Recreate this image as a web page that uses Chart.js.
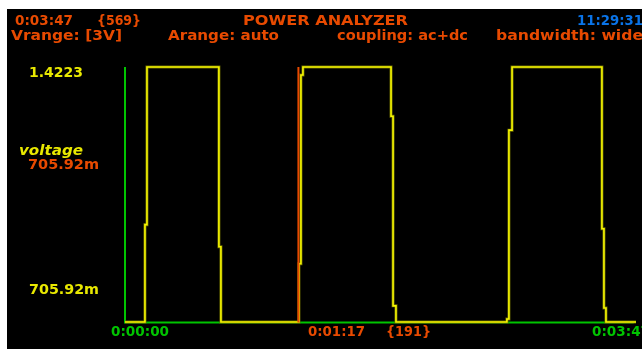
<!DOCTYPE html>
<html>
<head>
<meta charset="utf-8">
<script src="https://cdn.jsdelivr.net/npm/chart.js@4/dist/chart.umd.min.js"></script>
<style>
  html, body { margin: 0; padding: 0; background: #ffffff; }
  #scope { position: absolute; left: 7px; top: 9px; background: #000000; }
</style>
</head>
<body>
<canvas id="scope" width="635" height="340"></canvas>
<script>
// Data (time in seconds, voltage in volts)
const timeSec = [0, 8.9, 8.9, 9.8, 9.8, 41.9, 41.9, 42.8, 42.8, 77.6, 77.6, 78.5, 78.5, 79.4, 79.4,
  118.7, 118.7, 119.6, 119.6, 120.9, 120.9, 170.4, 170.4, 171.3, 171.3, 172.7, 172.7,
  212.8, 212.8, 213.7, 213.7, 214.6, 214.6, 228];
const voltage = [0, 0, 0.543, 0.543, 1.4223, 1.4223, 0.42, 0.42, 0, 0, 0.325, 0.325, 1.378, 1.378, 1.4223,
  1.4223, 1.148, 1.148, 0.09, 0.09, 0, 0, 0.017, 0.017, 1.07, 1.07, 1.4223,
  1.4223, 0.52, 0.52, 0.078, 0.078, 0, 0];
const totalSec = 227;
const cursorSec = 77.6;
const voltMax = 1.4223;

// Texts
const headerTop = ["0:03:47", "{569}", "POWER ANALYZER", "11:29:31"];
const headerBottom = ["Vrange: [3V]", "Arange: auto", "coupling: ac+dc", "bandwidth: wide"];
const yTickLabels = ["1.4223", "705.92m"];
const yTitle = "voltage";
const cursorValue = "705.92m";
const xTickLabels = ["0:00:00", "0:03:47"];
const cursorLabels = ["0:01:17", "{191}"];

const RED = "#e84a00", YELLOW = "#e8e800", GREEN = "#00c400", BLUE = "#0a74e8";
const FONT = 'bold 14px "DejaVu Sans"';

function fitText(ctx, str, x, y, w, color, font) {
    ctx.save();
    ctx.font = font || FONT;
    ctx.fillStyle = color;
    ctx.textBaseline = "alphabetic";
    const m = ctx.measureText(str).width;
    ctx.translate(x - 7, y - 9);
    ctx.scale(w / m, 1);
    ctx.fillText(str, 0, 0);
    ctx.restore();
}

const scopePlugin = {
    id: "scope",
    beforeDatasetsDraw(chart) {
        const ctx = chart.ctx, xs = chart.scales.x, ys = chart.scales.y;
        const x0 = xs.getPixelForValue(0), x1 = xs.getPixelForValue(totalSec);
        const yTop = ys.getPixelForValue(voltMax), yBot = ys.getPixelForValue(0) + 0.5;
        ctx.save();
        ctx.strokeStyle = GREEN;
        ctx.lineWidth = 2;
        ctx.beginPath();
        ctx.moveTo(x0, yTop);
        ctx.lineTo(x0, yBot);
        ctx.lineTo(x1, yBot);
        ctx.stroke();
        ctx.restore();
    },
    afterDatasetsDraw(chart) {
        const ctx = chart.ctx, xs = chart.scales.x, ys = chart.scales.y;
        const xc = xs.getPixelForValue(cursorSec) - 0.5;
        ctx.save();
        ctx.strokeStyle = RED;
        ctx.lineWidth = 2;
        ctx.beginPath();
        ctx.moveTo(xc, ys.getPixelForValue(voltMax));
        ctx.lineTo(xc, ys.getPixelForValue(0) + 0.5);
        ctx.stroke();
        ctx.restore();

        // header
        fitText(ctx, headerTop[0], 15, 25, 58, RED);
        fitText(ctx, headerTop[1], 97, 25, 44, RED);
        fitText(ctx, headerTop[2], 243, 25, 165, RED);
        fitText(ctx, headerTop[3], 577, 25, 66, BLUE);
        fitText(ctx, headerBottom[0], 11, 40, 111, RED);
        fitText(ctx, headerBottom[1], 168, 40, 111, RED);
        fitText(ctx, headerBottom[2], 337, 40, 131, RED);
        fitText(ctx, headerBottom[3], 496, 40, 147, RED);

        // y labels
        fitText(ctx, yTickLabels[0], 29, 77, 54, YELLOW);
        fitText(ctx, yTitle, 19, 155, 64, YELLOW, 'italic bold 14px "DejaVu Sans"');
        fitText(ctx, cursorValue, 28, 169, 71, RED);
        fitText(ctx, yTickLabels[1], 29, 294, 70, YELLOW);

        // x labels
        fitText(ctx, xTickLabels[0], 111, 336, 58, GREEN);
        fitText(ctx, cursorLabels[0], 308, 336, 57, RED);
        fitText(ctx, cursorLabels[1], 386, 336, 45, RED);
        fitText(ctx, xTickLabels[1], 592, 336, 58, GREEN);
    }
};

const points = timeSec.map((t, i) => ({ x: t, y: voltage[i] }));

new Chart(document.getElementById("scope"), {
    type: "line",
    data: {
        datasets: [
            // bright core on top, darker rim underneath
            { data: points, borderColor: "#f6f600", borderWidth: 1.6, pointRadius: 0, tension: 0, clip: false },
            { data: points, borderColor: "#6a6a00", borderWidth: 3, pointRadius: 0, tension: 0, clip: false }
        ]
    },
    options: {
        responsive: false,
        animation: false,
        layout: { padding: { left: 118, top: 58, right: 6, bottom: 27 } },
        scales: {
            x: { type: "linear", min: 0, max: 228, display: false },
            y: { min: 0, max: voltMax, display: false }
        },
        plugins: { legend: { display: false }, tooltip: { enabled: false } }
    },
    plugins: [scopePlugin]
});
</script>
</body>
</html>
